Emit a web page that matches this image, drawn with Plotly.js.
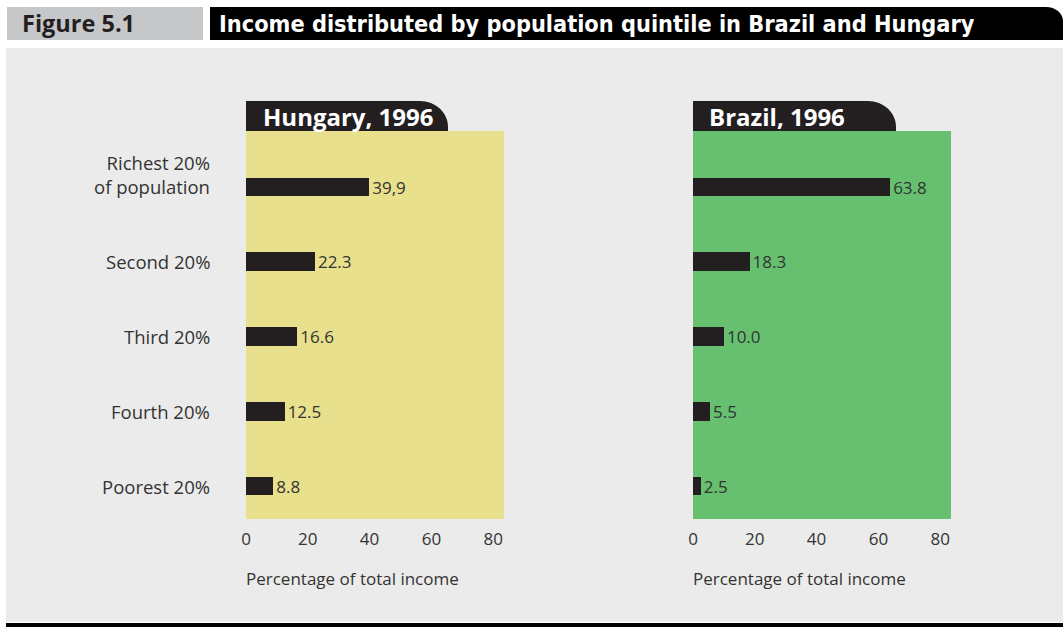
<!DOCTYPE html>
<html>
<head>
<meta charset="utf-8">
<script src="https://cdn.plot.ly/plotly-3.0.1.min.js"></script>
<style>html,body{margin:0;padding:0;background:#fff;}#chart{width:1063px;height:627px;}</style>
</head>
<body>
<div id="chart"></div>
<script>
// ---- data ----
var categories = ['Richest 20%', 'Second 20%', 'Third 20%', 'Fourth 20%', 'Poorest 20%'];
var categoryLabels = ['Richest 20%<br>of population', 'Second 20%', 'Third 20%', 'Fourth 20%', 'Poorest 20%'];
var hungaryValues = [39.9, 22.3, 16.6, 12.5, 8.8];
var hungaryLabels = ['39,9', '22.3', '16.6', '12.5', '8.8'];
var brazilValues = [63.8, 18.3, 10.0, 5.5, 2.5];
var brazilLabels = ['63.8', '18.3', '10.0', '5.5', '2.5'];
var xTicks = [0, 20, 40, 60, 80];
var figureNumber = 'Figure 5.1';
var figureTitle = 'Income distributed by population quintile in Brazil and Hungary';
var panelTitles = ['Hungary, 1996', 'Brazil, 1996'];
var axisTitle = 'Percentage of total income';

// ---- layout helpers (pixel -> paper) ----
var W = 1063, H = 627;
function px(x) { return x / W; }
function py(y) { return 1 - y / H; }
var FONT = '"Open Sans", "Noto Sans", sans-serif';
var TXT = '#333333';
var BAR = '#231f20';

function rect(x0, y0, x1, y1, color) {
  return {type: 'rect', xref: 'paper', yref: 'paper', x0: px(x0), x1: px(x1), y0: py(y1), y1: py(y0),
          fillcolor: color, line: {width: 0}, layer: 'below'};
}
function roundTopRight(x0, y0, x1, y1, rx, ry, color) {
  var k = 0.552;
  var d = 'M ' + px(x0) + ',' + py(y1) +
          ' L ' + px(x0) + ',' + py(y0) +
          ' L ' + px(x1 - rx) + ',' + py(y0) +
          ' C ' + px(x1 - rx + k * rx) + ',' + py(y0) + ' ' + px(x1) + ',' + py(y0 + ry - k * ry) + ' ' + px(x1) + ',' + py(y0 + ry) +
          ' L ' + px(x1) + ',' + py(y1) + ' Z';
  return {type: 'path', xref: 'paper', yref: 'paper', path: d, fillcolor: color, line: {width: 0}, layer: 'below'};
}

var plotTop = 131, plotBottom = 519;
var yDomain = [py(plotBottom), py(plotTop)];
var xDom1 = [px(246), px(504)];
var xDom2 = [px(693), px(951)];

function barTrace(vals, labels, xa, ya) {
  return {
    type: 'bar', orientation: 'h', y: categories, x: vals, text: labels,
    textposition: 'outside', cliponaxis: false, constraintext: 'none', width: 0.25,
    marker: {color: BAR, line: {width: 0}},
    textfont: {family: FONT, size: 17, color: TXT},
    outsidetextfont: {family: FONT, size: 17, color: TXT},
    xaxis: xa, yaxis: ya, hoverinfo: 'x+y', showlegend: false
  };
}

var data = [
  barTrace(hungaryValues, hungaryLabels, 'x', 'y'),
  barTrace(brazilValues, brazilLabels, 'x2', 'y2')
];

function xAxis(domain, anchor) {
  return {domain: domain, anchor: anchor, range: [0, 83.5], tickvals: xTicks, ticktext: xTicks.map(String),
          showgrid: false, zeroline: false, showline: false, ticks: '', fixedrange: true,
          tickfont: {family: FONT, size: 17, color: TXT}, ticklabelstandoff: 8};
}
function yAxis(anchor) {
  return {domain: yDomain, anchor: anchor, type: 'category', categoryarray: categories, categoryorder: 'array',
          range: [4.44, -0.75], showticklabels: false, showgrid: false, zeroline: false, showline: false,
          ticks: '', fixedrange: true};
}

var shapes = [
  rect(7, 7, 203, 40, '#c6c7c9'),
  roundTopRight(210, 7, 1063, 40, 17, 14, '#000000'),
  rect(6, 48, 1063, 622, '#ebebeb'),
  rect(6, 623, 1063, 627, '#000000'),
  {type: 'rect', xref: 'x domain', yref: 'y domain', x0: 0, x1: 1, y0: 0, y1: 1, fillcolor: '#e8e08c', line: {width: 0}, layer: 'below'},
  {type: 'rect', xref: 'x2 domain', yref: 'y2 domain', x0: 0, x1: 1, y0: 0, y1: 1, fillcolor: '#66c070', line: {width: 0}, layer: 'below'},
  roundTopRight(246, 101, 448, 131, 28, 26, BAR),
  roundTopRight(693, 101, 896, 131, 28, 26, BAR)
];

var annotations = [
  {xref: 'paper', yref: 'paper', x: px(20), y: py(23.5), xanchor: 'left', yanchor: 'middle', showarrow: false,
   text: '<b>' + figureNumber + '</b>', font: {family: FONT, size: 23.5, color: '#231f20'}},
  {xref: 'paper', yref: 'paper', x: px(217), y: py(23.5), xanchor: 'left', yanchor: 'middle', showarrow: false,
   text: '<b>' + figureTitle + '</b>', font: {family: '"Liberation Sans Narrow", "DejaVu Sans Condensed", sans-serif', size: 23.3, color: '#ffffff'}},
  {xref: 'paper', yref: 'paper', x: px(261), y: py(116), xanchor: 'left', yanchor: 'middle', showarrow: false,
   text: '<b>' + panelTitles[0] + '</b>', font: {family: FONT, size: 24, color: '#ffffff'}},
  {xref: 'paper', yref: 'paper', x: px(707), y: py(116), xanchor: 'left', yanchor: 'middle', showarrow: false,
   text: '<b>' + panelTitles[1] + '</b>', font: {family: FONT, size: 24, color: '#ffffff'}},
  {xref: 'paper', yref: 'paper', x: px(244), y: py(578), xanchor: 'left', yanchor: 'middle', showarrow: false,
   text: axisTitle, font: {family: FONT, size: 17, color: TXT}},
  {xref: 'paper', yref: 'paper', x: px(691), y: py(578), xanchor: 'left', yanchor: 'middle', showarrow: false,
   text: axisTitle, font: {family: FONT, size: 17, color: TXT}}
];
categories.forEach(function (c, i) {
  annotations.push({xref: 'paper', yref: 'y', x: px(212), y: c, xanchor: 'right', yanchor: 'middle', align: 'right',
    showarrow: false, text: categoryLabels[i], yshift: (i === 0 ? 13 : 0),
    font: {family: FONT, size: 18.5, color: TXT}});
});

var layout = {
  width: W, height: H, margin: {l: 0, r: 0, t: 0, b: 0},
  paper_bgcolor: '#ffffff', plot_bgcolor: 'rgba(0,0,0,0)',
  xaxis: xAxis(xDom1, 'y'), yaxis: yAxis('x'),
  xaxis2: xAxis(xDom2, 'y2'), yaxis2: yAxis('x2'),
  shapes: shapes, annotations: annotations, bargap: 0, showlegend: false,
  font: {family: FONT}
};

Plotly.newPlot('chart', data, layout, {displayModeBar: false, staticPlot: true});
</script>
</body>
</html>
